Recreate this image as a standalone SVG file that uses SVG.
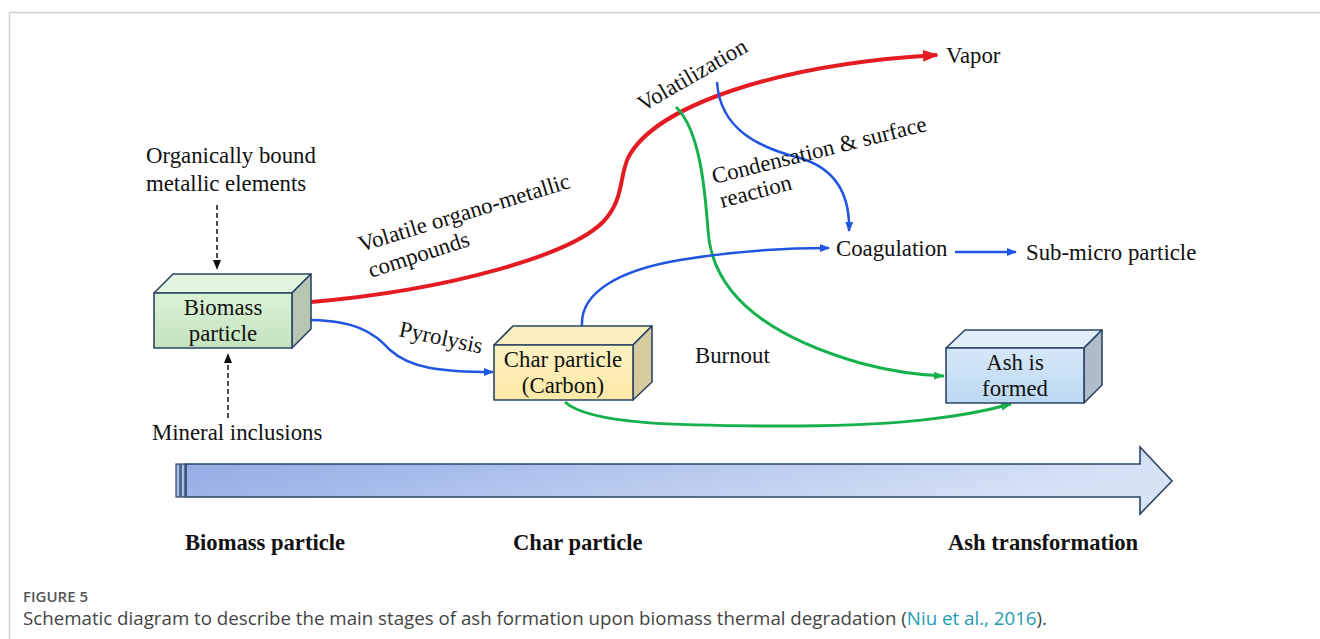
<svg xmlns="http://www.w3.org/2000/svg" width="1320" height="639" viewBox="0 0 1320 639">
<style>
.t{font-family:"Liberation Serif","Times New Roman",serif;font-size:22.8px;fill:#111}
.b{font-family:"Liberation Serif","Times New Roman",serif;font-size:22.6px;font-weight:bold;fill:#111}
.box{stroke:#2b4466;stroke-width:1.6;stroke-linejoin:round}
.red{fill:none;stroke:#e41b22;stroke-width:4}
.blue{fill:none;stroke:#1f55e0;stroke-width:2.5}
.green{fill:none;stroke:#16b04c;stroke-width:3}
.dash{fill:none;stroke:#111;stroke-width:1.5;stroke-dasharray:5,3}
.cap1{font-family:"Open Sans","Noto Sans",sans-serif;font-size:15px;font-weight:600;fill:#555}
.cap2{font-family:"Open Sans","Noto Sans",sans-serif;font-size:18px;fill:#444}
</style>
<defs>
<marker id="mr" markerUnits="userSpaceOnUse" markerWidth="16" markerHeight="14" refX="14" refY="7" orient="auto"><path d="M0,1 L16,7 L0,13 Z" fill="#e41b22"/></marker>
<marker id="mb" markerUnits="userSpaceOnUse" markerWidth="10" markerHeight="10" refX="9" refY="5" orient="auto"><path d="M0,1 L10,5 L0,9 Z" fill="#1f55e0"/></marker>
<marker id="mg" markerUnits="userSpaceOnUse" markerWidth="11" markerHeight="10" refX="10" refY="5" orient="auto"><path d="M0,1 L11,5 L0,9 Z" fill="#16b04c"/></marker>
<marker id="mk" markerUnits="userSpaceOnUse" markerWidth="10" markerHeight="10" refX="9" refY="5" orient="auto"><path d="M0,1 L10,5 L0,9 Z" fill="#111"/></marker>
<linearGradient id="gArrow" x1="0" y1="0" x2="1" y2="0.3">
<stop offset="0" stop-color="#8ea8e4"/><stop offset="1" stop-color="#d9e3f6"/></linearGradient>
<linearGradient id="gGreen" x1="0" y1="0" x2="0" y2="1"><stop offset="0" stop-color="#dbf1d6"/><stop offset="1" stop-color="#c4e4bf"/></linearGradient>
<linearGradient id="gYellow" x1="0" y1="0" x2="0" y2="1"><stop offset="0" stop-color="#fdf2c2"/><stop offset="1" stop-color="#fbe8a6"/></linearGradient>
<linearGradient id="gBlue" x1="0" y1="0" x2="0" y2="1"><stop offset="0" stop-color="#d6e8f8"/><stop offset="1" stop-color="#bcd8f2"/></linearGradient>
</defs>
<rect width="1320" height="639" fill="#fff"/>
<path d="M9.5,639 V12.5 H1320" fill="none" stroke="#d0d0d0" stroke-width="1.5"/>

<g id="connectors">
<path class="red" d="M311,302 C450,290 570,255 603,222 C624,200 619,178 628,158 C655,105 780,64 937,55" marker-end="url(#mr)"/>
<path class="green" d="M676,107 C700,130 705,190 708,230 C712,300 780,340 860,363 C890,371 915,375 944,376" marker-end="url(#mg)"/>
<path class="green" d="M565,402 C590,425 680,426 800,426 C900,425 960,418 1011,404" marker-end="url(#mg)"/>
<path class="blue" d="M292,320 C360,318 375,335 390,350 C410,368 440,372 493,372" marker-end="url(#mb)"/>
<path class="blue" d="M582,326 C580,292 620,270 680,260 C740,250 790,248 829,248" marker-end="url(#mb)"/>
<path class="blue" d="M717,82 C720,130 760,148 800,158 C840,170 850,200 849,231" marker-end="url(#mb)"/>
<path class="blue" d="M955,252 H1016" marker-end="url(#mb)"/>
<path class="dash" d="M217,205 V269" marker-end="url(#mk)"/>
<path class="dash" d="M228,418 V354" marker-end="url(#mk)"/>
</g>

<g id="biomass">
<polygon class="box" points="154,293 173,274 311,274 292,293" fill="#e2f4dd"/>
<polygon class="box" points="292,293 311,274 311,329 292,348" fill="#b6c6b0"/>
<rect class="box" x="154" y="293" width="138" height="55" fill="url(#gGreen)"/>
<text class="t" x="223" y="315" text-anchor="middle">Biomass</text>
<text class="t" x="223" y="341" text-anchor="middle">particle</text>
</g>

<g id="char">
<polygon class="box" points="494,345 513,326 652,326 633,345" fill="#f8eebf"/>
<polygon class="box" points="633,345 652,326 652,382 633,400" fill="#d6cb9e"/>
<rect class="box" x="494" y="345" width="139" height="55" fill="url(#gYellow)"/>
<text class="t" x="563" y="367" text-anchor="middle">Char particle</text>
<text class="t" x="563" y="393" text-anchor="middle">(Carbon)</text>
</g>

<g id="ash">
<polygon class="box" points="946,348 965,330 1102,330 1084,348" fill="#e0eefa"/>
<polygon class="box" points="1084,348 1102,330 1102,385 1084,403" fill="#afbccb"/>
<rect class="box" x="946" y="348" width="138" height="55" fill="url(#gBlue)"/>
<text class="t" x="1015" y="370" text-anchor="middle">Ash is</text>
<text class="t" x="1015" y="396" text-anchor="middle">formed</text>
</g>

<g id="organic"><text class="t" x="146" y="163">Organically bound</text><text class="t" x="146" y="191">metallic elements</text></g>
<g id="mineral"><text class="t" x="152" y="440">Mineral inclusions</text></g>
<g id="vapor"><text class="t" x="946" y="63">Vapor</text></g>
<g id="coagulation"><text class="t" x="836" y="256">Coagulation</text></g>
<g id="submicro"><text class="t" x="1026" y="260">Sub-micro particle</text></g>
<g id="labels">
<text class="t" transform="translate(398,336) rotate(12)">Pyrolysis</text>
<text class="t" transform="translate(361,252) rotate(-17)">Volatile organo-metallic</text>
<text class="t" transform="translate(371,278) rotate(-18)">compounds</text>
<text class="t" transform="translate(643,112) rotate(-30)">Volatilization</text>
<text class="t" transform="translate(714,184) rotate(-14)">Condensation &amp; surface</text>
<text class="t" transform="translate(722,208) rotate(-15)">reaction</text>
<text class="t" x="695" y="363">Burnout</text>
</g>

<g id="stage-arrow">
<polygon points="186,464 1140,464 1140,447 1172,481 1140,514 1140,497 186,497" fill="url(#gArrow)" stroke="#2b4466" stroke-width="1.6" stroke-linejoin="miter"/>
<rect x="176" y="464" width="4" height="33" fill="#a9bde9" stroke="#2b4466" stroke-width="1.2"/>
<rect x="181" y="464" width="4" height="33" fill="#a9bde9" stroke="#2b4466" stroke-width="1.2"/>
<text class="b" x="185" y="550">Biomass particle</text>
<text class="b" x="513" y="550">Char particle</text>
<text class="b" x="948" y="550">Ash transformation</text>
</g>

<g id="caption">
<text class="cap1" x="23" y="602">FIGURE 5</text>
<text class="cap2" x="23" y="625" textLength="1024" lengthAdjust="spacingAndGlyphs">Schematic diagram to describe the main stages of ash formation upon biomass thermal degradation (<tspan fill="#1f9bb4">Niu et al., 2016</tspan>).</text>
</g>
</svg>
